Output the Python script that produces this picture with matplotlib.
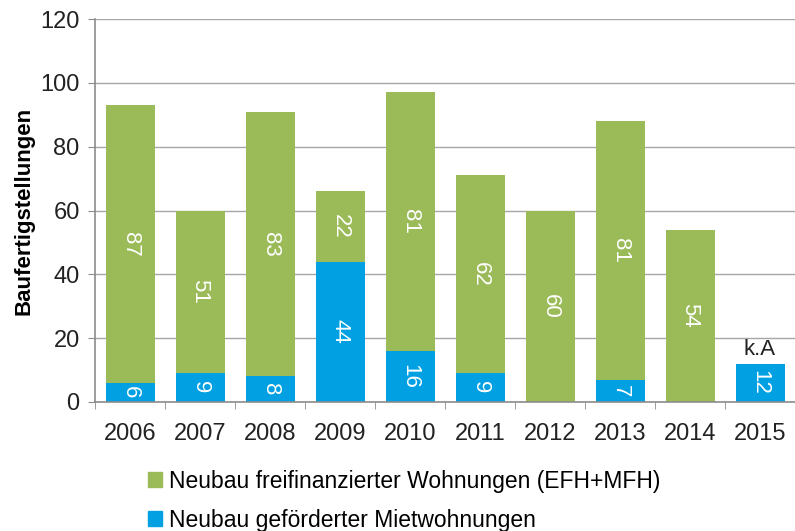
import matplotlib.pyplot as plt
from matplotlib.patches import Patch

years = ["2006", "2007", "2008", "2009", "2010", "2011", "2012", "2013", "2014", "2015"]
gefoerdert = [6, 9, 8, 44, 16, 9, 0, 7, 0, 12]
freifinanziert = [87, 51, 83, 22, 81, 62, 60, 81, 54, 0]

green = "#9BBB59"
blue = "#00A0E3"

plt.rcParams['font.family'] = ['Liberation Sans', 'DejaVu Sans']

fig = plt.figure(figsize=(7.95, 5.31), dpi=100)
ax = fig.add_axes([0.1195, 0.243, 0.8805, 0.721])

x = list(range(len(years)))
ax.bar(x, gefoerdert, width=0.7, color=blue, zorder=2)
ax.bar(x, freifinanziert, width=0.7, bottom=gefoerdert, color=green, zorder=2)

for i in x:
    if gefoerdert[i] > 0:
        ax.text(i, gefoerdert[i] / 2, str(gefoerdert[i]), rotation=-90, color="white",
                ha="center", va="center", fontsize=16, zorder=3)
    if freifinanziert[i] > 0:
        ax.text(i, gefoerdert[i] + freifinanziert[i] / 2, str(freifinanziert[i]), rotation=-90,
                color="white", ha="center", va="center", fontsize=16, zorder=3)
ax.text(9, gefoerdert[9] + 1, "k.A", ha="center", va="bottom", fontsize=16, color="#222222")

ax.set_xlim(-0.5, 9.5)
ax.set_ylim(0, 120)
ax.set_yticks(range(0, 121, 20))
ax.yaxis.grid(True, color="#A6A6A6", linewidth=1, zorder=0)
ax.set_xticks(x)
ax.set_xticklabels(years)
ax.set_xticks([i + 0.5 for i in range(-1, 10)], minor=True)
ax.tick_params(axis="x", which="major", length=0, labelsize=17, pad=15, colors="#222222")
ax.tick_params(axis="x", which="minor", length=5, color="#8C8C8C")
ax.tick_params(axis="y", length=5, labelsize=17, pad=6, colors="#8C8C8C", labelcolor="#222222")
for s in ["top", "right"]:
    ax.spines[s].set_visible(False)
for s in ["left", "bottom"]:
    ax.spines[s].set_color("#8C8C8C")
    ax.spines[s].set_linewidth(1.2)
ax.set_ylabel("Baufertigstellungen", fontsize=16, fontweight="bold", labelpad=4)

handles = [Patch(color=green, label="Neubau freifinanzierter Wohnungen (EFH+MFH)"),
           Patch(color=blue, label="Neubau geförderter Mietwohnungen")]
fig.legend(handles=handles, loc="upper left", bbox_to_anchor=(0.172, 0.137), frameon=False,
           fontsize=16.5, handlelength=0.6, handleheight=0.6, handletextpad=0.3,
           labelspacing=0.7, borderpad=0)

fig.savefig("out.png", dpi=100)
